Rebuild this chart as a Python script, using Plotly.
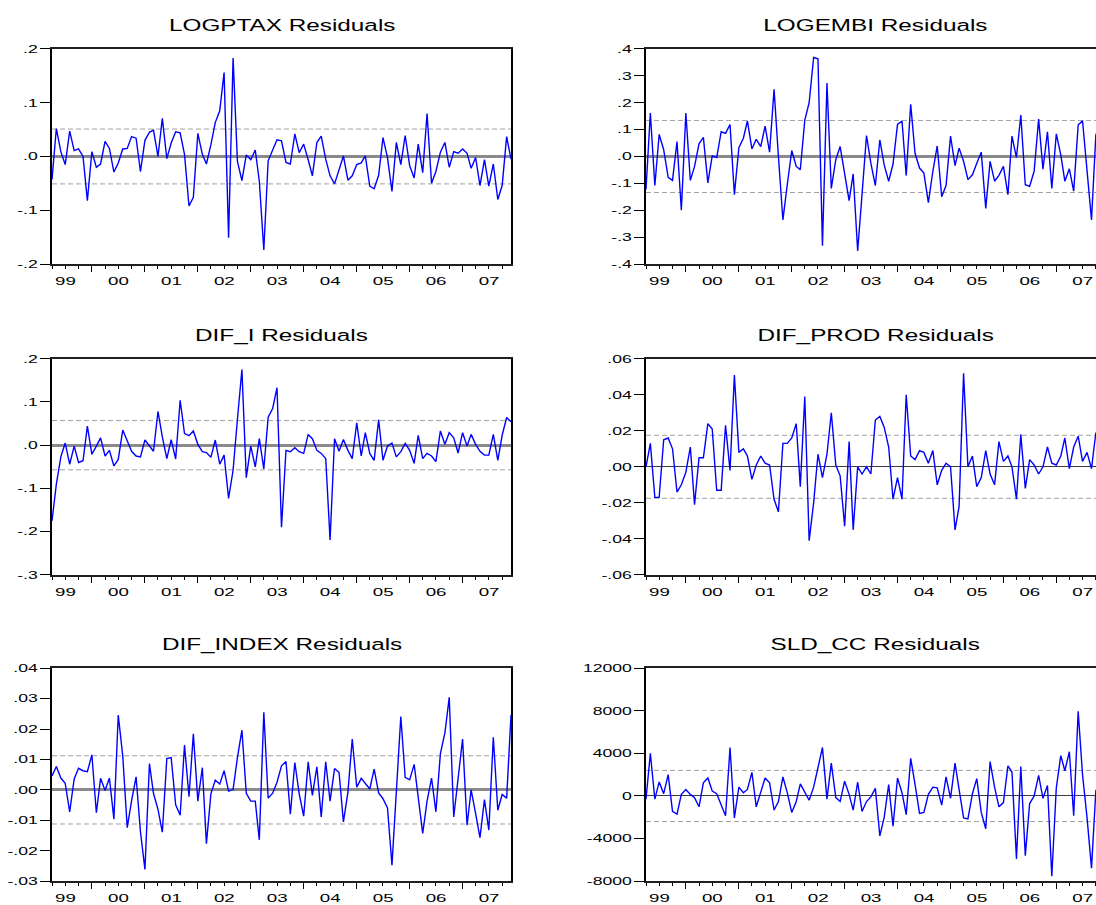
import pandas as pd
import plotly.graph_objects as go

# Monthly residuals, 1999M04 - 2007M12
dates = pd.date_range("1999-04-01", periods=105, freq="MS")

logptax = [
    -0.043, 0.052, 0.009, -0.015, 0.047, 0.011, 0.014, 0.000, -0.082, 0.009,
    -0.020, -0.014, 0.028, 0.015, -0.029, -0.012, 0.014, 0.015, 0.037, 0.034,
    -0.028, 0.030, 0.045, 0.049, 0.000, 0.071, -0.004, 0.025, 0.046, 0.044,
    0.004, -0.092, -0.076, 0.043, 0.004, -0.014, 0.022, 0.063, 0.085, 0.156,
    -0.151, 0.183, -0.009, -0.045, 0.003, -0.006, 0.012, -0.046, -0.174, -0.008,
    0.012, 0.031, 0.029, -0.011, -0.014, 0.042, 0.007, 0.023, -0.006, -0.036,
    0.026, 0.038, -0.005, -0.036, -0.051, -0.025, 0.001, -0.044, -0.036, -0.015,
    -0.012, 0.001, -0.055, -0.060, -0.035, 0.035, -0.002, -0.065, 0.026, -0.015,
    0.039, -0.017, -0.040, 0.023, -0.030, 0.080, -0.050, -0.028, 0.008, 0.026,
    -0.020, 0.009, 0.006, 0.014, 0.006, -0.022, -0.002, -0.054, -0.006, -0.055,
    -0.014, -0.080, -0.054, 0.037, -0.005,
]

logembi = [
    -0.123, 0.162, -0.108, 0.082, 0.025, -0.078, -0.089, 0.055, -0.200, 0.162,
    -0.089, -0.037, 0.047, 0.071, -0.098, 0.002, -0.004, 0.092, 0.086, 0.119,
    -0.142, 0.033, 0.068, 0.132, 0.028, 0.064, 0.037, 0.113, 0.016, 0.250,
    0.000, -0.236, -0.105, 0.022, -0.037, -0.049, 0.135, 0.200, 0.368, 0.363,
    -0.332, 0.273, -0.119, -0.012, 0.037, -0.062, -0.164, -0.065, -0.351, -0.142,
    0.078, -0.025, -0.108, 0.062, -0.031, -0.092, -0.028, 0.119, 0.132, -0.071,
    0.194, 0.012, -0.043, -0.062, -0.172, -0.055, 0.039, -0.150, -0.108, 0.076,
    -0.034, 0.031, -0.018, -0.086, -0.068, -0.025, 0.016, -0.193, -0.018, -0.092,
    -0.070, -0.037, -0.142, 0.076, -0.004, 0.154, -0.105, -0.111, -0.055, 0.139,
    -0.047, 0.092, -0.119, 0.084, 0.006, -0.092, -0.046, -0.129, 0.117, 0.133,
    -0.068, -0.236, 0.080, 0.120, 0.050,
]

dif_i = [
    -0.175, -0.090, -0.027, 0.005, -0.044, -0.002, -0.040, -0.036, 0.044, -0.021,
    -0.002, 0.017, -0.025, -0.012, -0.048, -0.033, 0.035, 0.012, -0.014, -0.025,
    -0.027, 0.012, -0.002, -0.014, 0.078, 0.019, -0.031, 0.013, -0.032, 0.104,
    0.027, 0.022, 0.033, 0.002, -0.015, -0.017, -0.028, 0.012, -0.044, -0.023,
    -0.123, -0.058, 0.060, 0.175, -0.075, -0.002, -0.050, 0.015, -0.055, 0.065,
    0.085, 0.133, -0.190, -0.012, -0.015, -0.006, -0.015, -0.019, 0.025, 0.015,
    -0.012, -0.019, -0.031, -0.219, 0.015, -0.014, 0.013, -0.012, -0.031, 0.052,
    -0.025, 0.029, -0.019, -0.035, 0.059, -0.035, -0.002, 0.005, -0.027, -0.015,
    0.004, -0.012, -0.042, 0.023, -0.031, -0.019, -0.025, -0.038, 0.033, 0.002,
    0.029, 0.017, -0.018, 0.029, -0.002, 0.025, 0.002, -0.014, -0.023, -0.023,
    0.025, -0.035, 0.023, 0.064, 0.054,
]

dif_prod = [
    0.000, 0.013, -0.017, -0.017, 0.015, 0.016, 0.010, -0.014, -0.010, -0.003,
    0.011, -0.021, 0.005, 0.005, 0.024, 0.021, -0.013, -0.013, 0.023, -0.002,
    0.051, 0.008, 0.010, 0.006, -0.007, 0.001, 0.006, 0.002, 0.001, -0.018,
    -0.025, 0.013, 0.013, 0.016, 0.024, -0.011, 0.039, -0.041, -0.020, 0.007,
    -0.006, 0.007, 0.030, 0.001, -0.005, -0.033, 0.014, -0.035, 0.000, -0.004,
    0.000, -0.004, 0.026, 0.028, 0.022, 0.011, -0.018, -0.006, -0.018, 0.040,
    0.006, 0.004, 0.009, 0.008, 0.002, 0.009, -0.010, -0.002, 0.002, 0.000,
    -0.035, -0.022, 0.052, 0.000, 0.006, -0.011, -0.006, 0.009, -0.004, -0.010,
    0.014, 0.003, 0.006, 0.000, -0.018, 0.018, -0.012, 0.004, 0.001, -0.004,
    0.000, 0.011, 0.002, 0.001, 0.006, 0.016, -0.001, 0.011, 0.017, 0.003,
    0.008, -0.001, 0.019, 0.005, 0.010,
]

dif_index = [
    0.0046, 0.0077, 0.0039, 0.0022, -0.0072, 0.0036, 0.0071, 0.0063, 0.0060, 0.0115,
    -0.0075, 0.0038, -0.0002, 0.0039, -0.0096, 0.0246, 0.0111, -0.0124, -0.0035, 0.0043,
    -0.0137, -0.0261, 0.0086, -0.0011, -0.0064, -0.0139, 0.0103, 0.0106, -0.0049, -0.0083,
    0.0147, -0.0022, 0.0184, -0.0037, 0.0073, -0.0177, -0.0013, 0.0032, 0.0019, 0.0063,
    -0.0004, 0.0001, 0.0106, 0.0196, -0.0011, -0.0037, -0.0037, -0.0164, 0.0255, -0.0027,
    -0.0011, 0.0025, 0.0079, 0.0093, -0.0080, 0.0090, -0.0013, -0.0086, 0.0092, -0.0018,
    0.0076, -0.0089, 0.0092, -0.0037, 0.0070, 0.0057, -0.0105, -0.0008, 0.0167, 0.0009,
    0.0038, 0.0022, 0.0003, 0.0068, -0.0010, -0.0029, -0.0059, -0.0247, -0.0010, 0.0241,
    0.0041, 0.0033, 0.0084, -0.0030, -0.0143, -0.0037, 0.0039, -0.0072, 0.0119, 0.0187,
    0.0304, -0.0089, 0.0041, 0.0167, -0.0116, 0.0000, -0.0078, -0.0157, -0.0032, -0.0132,
    0.0173, -0.0067, -0.0015, -0.0027, 0.0246,
]

sld_cc = [
    -300, 4000, -300, 1320, 215, 2000, -1450, -1700, 150, 615,
    150, -150, -1015, 1230, 1690, 460, 215, -770, -1850, 4550,
    -2060, 830, 310, 615, 2215, -1015, 310, 1690, 1230, -1320,
    -520, 1785, 310, -1540, -520, 1140, 370, -400, 830, 2770,
    4550, -300, 3080, -150, -520, 1385, 150, -1320, 1290, -1450,
    -520, -90, 710, -3750, -2000, 1080, -2830, 1690, 310, -1750,
    3540, 1080, -1630, -1540, 150, 830, 770, -860, 1785, -215,
    3080, 615, -2060, -2150, 215, 1630, -1540, -3080, 3230, 830,
    -1015, -615, 2830, 2250, -5900, 2770, -5600, -710, 0, 1940,
    -215, 985, -7540, 770, 3785, 2370, 4150, -1850, 7940, 2000,
    -2000, -6770, 520, 600, 400,
]

# One standard error bands
se_logptax = 0.051
se_logembi = 0.134
se_dif_i = 0.057
se_dif_prod = 0.0175
se_dif_index = 0.0112
se_sld_cc = 2400

# y-axis ticks
ticks_logptax = [-0.2, -0.1, 0.0, 0.1, 0.2]
labels_logptax = ["-.2", "-.1", ".0", ".1", ".2"]
ticks_logembi = [-0.4, -0.3, -0.2, -0.1, 0.0, 0.1, 0.2, 0.3, 0.4]
labels_logembi = ["-.4", "-.3", "-.2", "-.1", ".0", ".1", ".2", ".3", ".4"]
ticks_dif_i = [-0.3, -0.2, -0.1, 0.0, 0.1, 0.2]
labels_dif_i = ["-.3", "-.2", "-.1", ".0", ".1", ".2"]
ticks_dif_prod = [-0.06, -0.04, -0.02, 0.0, 0.02, 0.04, 0.06]
labels_dif_prod = ["-.06", "-.04", "-.02", ".00", ".02", ".04", ".06"]
ticks_dif_index = [-0.03, -0.02, -0.01, 0.0, 0.01, 0.02, 0.03, 0.04]
labels_dif_index = ["-.03", "-.02", "-.01", ".00", ".01", ".02", ".03", ".04"]
ticks_sld_cc = [-8000, -4000, 0, 4000, 8000, 12000]
labels_sld_cc = ["-8000", "-4000", "0", "4000", "8000", "12000"]

W, H = 1096, 905
FONT = "Liberation Sans"

# panel geometry in pixels: (left, right, top, bottom) and title centre
left_col = (52, 511)
right_col = (646, 1096)
rows = [(43.5, 261.5), (357.5, 576.5), (671.0, 887.0)]
title_y = [20.0, 334.0, 647.0]

# zero line style per panel: (colour, width)
zl_grey = ("#8a8a8a", 2.5)
zl_dark = ("#3c3c3c", 1.3)

panels = [
    ("LOGPTAX Residuals", logptax, se_logptax, ticks_logptax, labels_logptax, left_col, 0, zl_grey),
    ("LOGEMBI Residuals", logembi, se_logembi, ticks_logembi, labels_logembi, right_col, 0, zl_grey),
    ("DIF_I Residuals", dif_i, se_dif_i, ticks_dif_i, labels_dif_i, left_col, 1, zl_grey),
    ("DIF_PROD Residuals", dif_prod, se_dif_prod, ticks_dif_prod, labels_dif_prod, right_col, 1, zl_dark),
    ("DIF_INDEX Residuals", dif_index, se_dif_index, ticks_dif_index, labels_dif_index, left_col, 2, zl_grey),
    ("SLD_CC Residuals", sld_cc, se_sld_cc, ticks_sld_cc, labels_sld_cc, right_col, 2, zl_dark),
]

fig = go.Figure()
layout = {}
annotations = []
shapes = []

for i, (title, vals, se, tv, tt, (x0, x1), r, (zc, zw)) in enumerate(panels):
    sfx = "" if i == 0 else str(i + 1)
    y0, y1 = rows[r]
    is_right = x1 >= W
    fig.add_trace(go.Scatter(
        x=dates, y=vals, mode="lines",
        line=dict(color="#0000FF", width=1.4),
        xaxis=f"x{sfx}", yaxis=f"y{sfx}", showlegend=False,
    ))
    # right column runs past the page edge; show the part that fits
    x_end = "2007-10-02" if is_right else "2007-12-01"
    layout[f"xaxis{sfx}"] = dict(
        domain=[x0 / W, x1 / W], anchor=f"y{sfx}", type="date",
        range=["1999-04-01", x_end],
        tick0="1999-01-01", dtick="M12", tickformat="%y", ticklabelmode="period",
        ticks="outside", ticklen=6, tickwidth=1.2, tickcolor="black",
        minor=dict(tick0="1999-01-01", dtick="M3", ticks="outside", ticklen=3,
                   tickwidth=1, tickcolor="black", showgrid=False),
        showline=True, linecolor="#202020", linewidth=1.5, mirror=True,
        showgrid=False, zeroline=False,
        tickfont=dict(family=FONT, size=11, color="black"),
    )
    layout[f"yaxis{sfx}"] = dict(
        domain=[1 - y1 / H, 1 - y0 / H], anchor=f"x{sfx}",
        range=[tv[0], tv[-1]], tickmode="array", tickvals=tv, ticktext=tt,
        ticks="outside", ticklen=10, tickwidth=1, tickcolor="black",
        showline=True, linecolor="black", linewidth=2, mirror=not is_right,
        showgrid=False, zeroline=True, zerolinecolor=zc, zerolinewidth=zw,
        tickfont=dict(family=FONT, size=11, color="black"),
    )
    for s in (se, -se):
        shapes.append(dict(
            type="line", xref=f"x{sfx} domain", x0=0, x1=1, yref=f"y{sfx}", y0=s, y1=s,
            line=dict(color="#a0a0a0", width=1, dash="5px,3px"), layer="below",
        ))
    centre = (x0 + (1105 if is_right else x1)) / 2
    annotations.append(dict(
        text=title, xref="paper", yref="paper", x=centre / W, y=1 - title_y[r] / H,
        xanchor="center", yanchor="middle", showarrow=False,
        font=dict(family=FONT, size=17, color="black"),
    ))

fig.update_layout(
    width=W, height=H, margin=dict(l=0, r=0, t=0, b=0),
    paper_bgcolor="white", plot_bgcolor="white",
    annotations=annotations, shapes=shapes, **layout,
)

# Page without body margin; text drawn in the wide lettering of the graph
# by stretching each label horizontally about its anchor point.
post_js = """
document.body.style.margin = '0';
document.body.style.overflow = 'hidden';
var gd = document.getElementById('{plot_id}');
function widen(nodes, sx, anchor) {
  nodes.forEach(function (t) {
    var b = t.getBBox();
    var ax = anchor === 'end' ? b.x + b.width : b.x + b.width / 2;
    var tr = t.getAttribute('transform') || '';
    t.setAttribute('transform', tr + ' translate(' + ax + ',0) scale(' + sx + ',1) translate(' + (-ax) + ',0)');
  });
}
widen(gd.querySelectorAll('.xaxislayer-above text'), 1.7, 'middle');
widen(gd.querySelectorAll('.yaxislayer-above text'), 1.6, 'end');
widen(gd.querySelectorAll('text.annotation-text'), 1.43, 'middle');
"""

fig.write_html("out.html", post_script=post_js)
